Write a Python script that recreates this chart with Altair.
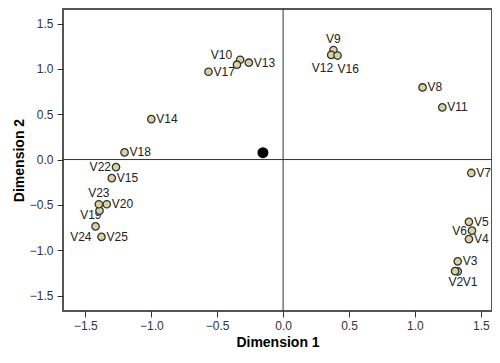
import altair as alt
import pandas as pd

names = ["V1", "V2", "V3", "V4", "V5", "V6", "V7", "V8", "V9", "V10",
         "V11", "V12", "V13", "V14", "V15", "V16", "V17", "V18", "V19", "V20",
         "V21", "V22", "V23", "V24", "V25"]
dim1 = [1.325, 1.305, 1.325, 1.41, 1.41, 1.433, 1.428, 1.058, 0.382, -0.326,
        1.208, 0.365, -0.26, -1.0, -1.30, 0.413, -0.566, -1.203, -1.393, -1.338,
        -0.35, -1.268, -1.398, -1.423, -1.378]
dim2 = [-1.233, -1.23, -1.122, -0.877, -0.687, -0.784, -0.148, 0.795, 1.208, 1.10,
        0.575, 1.154, 1.068, 0.446, -0.205, 1.147, 0.968, 0.079, -0.564, -0.493,
        1.046, -0.083, -0.493, -0.737, -0.852]

centroid_x = [-0.153]
centroid_y = [0.076]

x_ticks = [-1.5, -1.0, -0.5, 0.0, 0.5, 1.0, 1.5]
y_ticks = [-1.5, -1.0, -0.5, 0.0, 0.5, 1.0, 1.5]

# label placement groups: (names, align, dx, dy)
placements = [
    (["V3", "V4", "V5", "V7", "V8", "V11", "V13", "V14", "V15", "V17", "V18", "V20", "V25"], "left", 5, 0),
    (["V22", "V6"], "right", -5, 0),
    (["V19"], "right", 2, 4),
    (["V23", "V9"], "center", 0, -11),
    (["V10"], "right", -8, -5),
    (["V12"], "right", 2, 13),
    (["V16"], "left", 0, 13),
    (["V2"], "right", 8, 11),
    (["V1"], "left", 5, 11),
    (["V24"], "right", -4, 11),
]

df = pd.DataFrame({"name": names, "d1": dim1, "d2": dim2})
cdf = pd.DataFrame({"d1": centroid_x, "d2": centroid_y})

xs = alt.Scale(domain=[-1.67, 1.585], nice=False, zero=False)
ys = alt.Scale(domain=[-1.67, 1.66], nice=False, zero=False)

xax = alt.Axis(values=x_ticks, format=".1f", grid=False, domain=False, tickSize=6,
               tickColor="#333", labelColor="#333", labelFontSize=12, labelPadding=3,
               labelFont="Liberation Sans", title="Dimension 1", titleFont="Liberation Sans",
               titleFontSize=14, titleFontWeight="bold", titleColor="#000", titlePadding=4)
yax = alt.Axis(values=y_ticks, format=".1f", grid=False, domain=False, tickSize=6,
               tickColor="#333", labelColor="#333", labelFontSize=12, labelPadding=4,
               labelFont="Liberation Sans", title="Dimension 2", titleFont="Liberation Sans",
               titleFontSize=14, titleFontWeight="bold", titleColor="#000", titlePadding=3)

base = alt.Chart(df)

zero_v = alt.Chart(pd.DataFrame({"v": [0.0]})).mark_rule(color="#333", strokeWidth=1).encode(
    x=alt.X("v:Q", scale=xs, axis=xax))
zero_h = alt.Chart(pd.DataFrame({"v": [0.0]})).mark_rule(color="#333", strokeWidth=1).encode(
    y=alt.Y("v:Q", scale=ys, axis=yax))

layers = [zero_v, zero_h]
for group, align, dx, dy in placements:
    layers.append(
        base.transform_filter(alt.FieldOneOfPredicate(field="name", oneOf=group))
        .mark_text(align=align, baseline="middle", dx=dx, dy=dy, fontSize=12,
                   font="Liberation Sans", color="#222")
        .encode(x=alt.X("d1:Q", scale=xs, axis=xax), y=alt.Y("d2:Q", scale=ys, axis=yax),
                text="name:N")
    )

points = base.mark_point(filled=True, fill="#d6d2a2", stroke="#333", strokeWidth=1.3,
                         size=55, opacity=1, shape="circle").encode(
    x=alt.X("d1:Q", scale=xs, axis=xax), y=alt.Y("d2:Q", scale=ys, axis=yax))
layers.append(points)

cent = alt.Chart(cdf).mark_circle(color="#000", size=120, opacity=1).encode(
    x=alt.X("d1:Q", scale=xs, axis=xax), y=alt.Y("d2:Q", scale=ys, axis=yax))
layers.append(cent)

chart = alt.layer(*layers).properties(
    width=429, height=302,
    padding={"left": 55, "top": 1, "right": 0, "bottom": 40},
    autosize=alt.AutoSizeParams(type="none"),
    background="white",
).configure_view(stroke="#555", strokeWidth=2)

chart.save("out.html", embed_options={"renderer": "svg", "actions": False})
